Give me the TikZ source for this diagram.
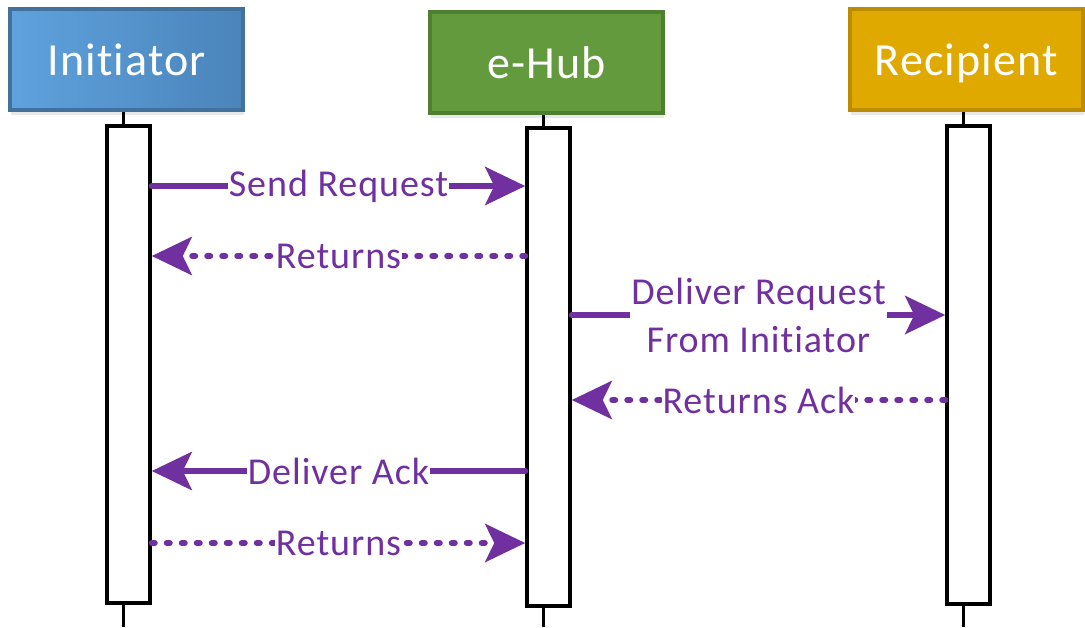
\documentclass[tikz,border=0pt]{standalone}
\usepackage{fontspec}
\setmainfont[LetterSpace=2.5, Ligatures={NoCommon}]{Carlito}
\usetikzlibrary{arrows.meta,shadows}
\definecolor{msgpurple}{HTML}{7030A0}
\definecolor{iniFillA}{HTML}{5FA2DE}
\definecolor{iniFillB}{HTML}{4A84BA}
\definecolor{iniDraw}{HTML}{41719C}
\definecolor{hubFill}{HTML}{639A3E}
\definecolor{hubDraw}{HTML}{4F7F31}
\definecolor{recFill}{HTML}{DFA900}
\definecolor{recDraw}{HTML}{BC8C00}
\tikzset{
  header/.style={minimum width=233pt, minimum height=101pt, line width=3.5pt,
    text=white, font=\fontsize{46}{50}\selectfont, inner sep=0pt,
    text height=36pt, text depth=5pt,
    drop shadow={opacity=0.18, shadow xshift=1pt, shadow yshift=-5pt}},
  actbox/.style={draw=black, fill=white, line width=3.5pt, minimum width=43pt, inner sep=0pt},
  lifeline/.style={draw=black, line width=3.5pt},
  msg/.style={draw=msgpurple, line width=6pt, -{Stealth[length=40pt, width=38pt, inset=9pt]}},
  solidmsg/.style={msg, line cap=round},
  dotmsg/.style={msg, line cap=round, dash pattern=on 3pt off 12pt},
  msglabel/.style={fill=white, inner sep=1pt, text=msgpurple, font=\fontsize{38}{48}\selectfont, align=center}
}
\begin{document}
\begin{tikzpicture}[x=1pt, y=-1pt]
\useasboundingbox (0,0) rectangle (1085,627);

% headers
\node[header, draw=iniDraw, left color=iniFillA, right color=iniFillB] (hI) at (126.5,59.5) {Initiator};
\node[header, draw=hubDraw, fill=hubFill] (hH) at (546.5,62.5) {e-Hub};
\node[header, draw=recDraw, fill=recFill] (hR) at (966.5,59.5) {Recipient};

% lifeline ends
\coordinate (eI) at (123.5,627);
\coordinate (eH) at (543.5,627);
\coordinate (eR) at (963.5,627);

% lifeline stubs (behind boxes)
\draw[lifeline] (eI |- hI.south) -- (eI);
\draw[lifeline] (eH |- hH.south) -- (eH);
\draw[lifeline] (eR |- hR.south) -- (eR);

% activation boxes
\node[actbox, minimum height=477pt] (aI) at (128.5,364.5) {};
\node[actbox, minimum height=478pt] (aH) at (548.5,367) {};
\node[actbox, minimum height=478pt] (aR) at (968.5,365) {};

% message rows
\coordinate (r1) at (0,186);
\coordinate (r2) at (0,256);
\coordinate (r3) at (0,315);
\coordinate (r4) at (0,400);
\coordinate (r5) at (0,471);
\coordinate (r6) at (0,543);

\draw[solidmsg] (aI.east |- r1) -- node[msglabel] {Send Request} (aH.west |- r1);
\draw[dotmsg] (aH.west |- r2) -- node[msglabel] {Returns} (aI.east |- r2);
\draw[solidmsg] (aH.east |- r3) -- node[msglabel] {Deliver Request\\From Initiator} (aR.west |- r3);
\draw[dotmsg] (aR.west |- r4) -- node[msglabel] {Returns Ack} (aH.east |- r4);
\draw[solidmsg] (aH.west |- r5) -- node[msglabel] {Deliver Ack} (aI.east |- r5);
\draw[dotmsg] (aI.east |- r6) -- node[msglabel] {Returns} (aH.west |- r6);
\end{tikzpicture}
\end{document}
